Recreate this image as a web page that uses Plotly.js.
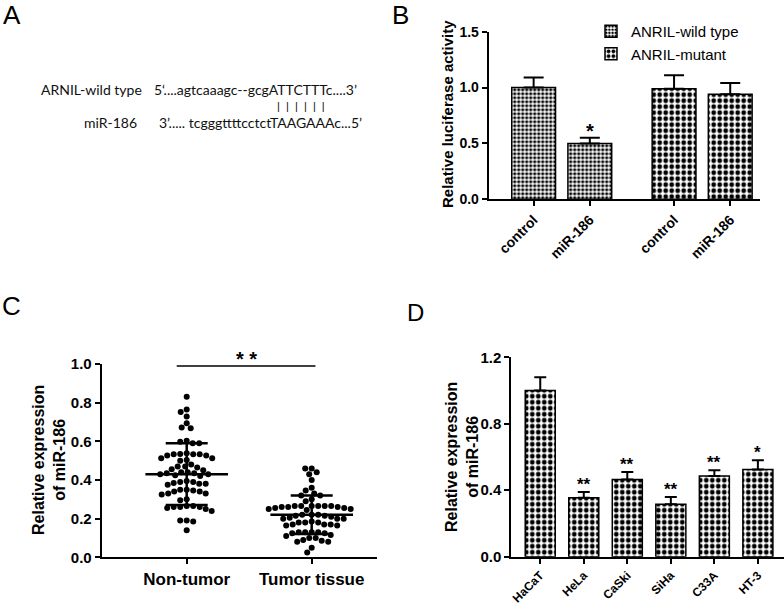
<!DOCTYPE html>
<html><head><meta charset="utf-8">
<script src="https://cdn.plot.ly/plotly-3.0.1.min.js"></script>
<style>html,body{margin:0;padding:0;background:#fff}#chart{width:784px;height:606px}</style>
</head><body><div id="chart"></div>
<script>
// ---------- Panel A (sequence alignment text) ----------
const aLabels = ['ARNIL-wild type', 'miR-186'];
const aSequences = ['5\u2018....agtcaaagc--gcgATTCTTTc....3\u2019', '3\u2019..... tcgggttttcctctTAAGAAAc...5\u2019'];
const aPairing = '|  |  |  |  |  |';

// ---------- Panel B (luciferase assay) ----------
const bCategories = ['control', 'miR-186', 'control', 'miR-186'];
const bSeriesNames = ['ANRIL-wild type', 'ANRIL-mutant'];
const bWild = [1.00, 0.50];
const bWildErr = [0.09, 0.05];
const bMutant = [0.99, 0.94];
const bMutantErr = [0.12, 0.10];
const bSig = ['', '*', '', ''];
const bTicks = [0, 0.5, 1.0, 1.5];
const bTitle = 'Relative luciferase activity';

// ---------- Panel C (tissue scatter) ----------
const cGroups = ['Non-tumor', 'Tumor tissue'];
const cNonTumor = [0.83, 0.765, 0.752, 0.728, 0.693, 0.672, 0.667, 0.603, 0.598, 0.59, 0.59,
  0.538, 0.535, 0.533, 0.526, 0.512, 0.50, 0.503, 0.512, 0.526, 0.533, 0.533,
  0.48, 0.47, 0.47, 0.465, 0.455, 0.45,
  0.44, 0.435, 0.43, 0.425, 0.42, 0.435, 0.44, 0.43,
  0.39, 0.385, 0.38, 0.375, 0.38, 0.39, 0.395,
  0.35, 0.345, 0.34, 0.33, 0.325, 0.33, 0.34, 0.35,
  0.30, 0.295,
  0.265, 0.26, 0.26, 0.255, 0.25, 0.24, 0.26, 0.265,
  0.19, 0.185, 0.19,
  0.14];
const cTumor = [0.46, 0.46, 0.44, 0.43, 0.40, 0.36, 0.345, 0.33, 0.32, 0.32, 0.30, 0.29,
  0.265, 0.265, 0.265, 0.26, 0.26, 0.255, 0.25, 0.245, 0.25, 0.255, 0.26, 0.265, 0.265, 0.265,
  0.22, 0.215, 0.21, 0.20, 0.20, 0.20, 0.205, 0.215, 0.22, 0.22,
  0.18, 0.18, 0.17, 0.165, 0.17, 0.165, 0.17, 0.18, 0.185,
  0.13, 0.13, 0.125, 0.11, 0.10, 0.10, 0.115, 0.125, 0.13, 0.13,
  0.09, 0.08, 0.08, 0.085,
  0.05, 0.025];
const cMean = [0.43, 0.22];
const cSD = [0.16, 0.10];
const cSigText = '* *';
const cSigSpan = [-0.08, 1.03];
const cSigLevel = 0.99;
const cTicks = [0, 0.2, 0.4, 0.6, 0.8, 1.0];
const cTitle = 'Relative expression<br>of miR-186';

// ---------- Panel D (cell lines) ----------
const dLines = ['HaCaT', 'HeLa', 'CaSki', 'SiHa', 'C33A', 'HT-3'];
const dValues = [1.00, 0.355, 0.465, 0.315, 0.485, 0.525];
const dErr = [0.08, 0.035, 0.045, 0.045, 0.035, 0.055];
const dSig = ['', '**', '**', '**', '**', '*'];
const dTicks = [0, 0.4, 0.8, 1.2];
const dTitle = 'Relative expression<br>of miR-186';

// ---------- layout helpers ----------
const W = 784, H = 606;
const px = v => v / W;
const py = v => 1 - v / H;
const FONT = 'Arial, Liberation Sans, sans-serif';
const black = '#000';

const gap = 0.5; // extra gap between the two groups in panel B
const bPos = bCategories.map((c, i) => i + (i >= 2 ? gap : 0));

// beeswarm placement (pixel space) for panel C
const C_DOM = [101.7, 376.7], C_RANGE = [-0.68, 1.52], C_YPX = 193.3;
const cPxPerX = (C_DOM[1] - C_DOM[0]) / (C_RANGE[1] - C_RANGE[0]);
function swarm(vals, center, diam) {
  const order = vals.map((v, i) => i).sort((a, b) => vals[b] - vals[a]);
  const placed = [];
  const xs = new Array(vals.length);
  order.forEach(i => {
    const y = vals[i] * C_YPX;
    for (let n = 0; n < 400; n++) {
      const off = n === 0 ? 0 : (n % 2 ? -Math.ceil(n / 2) : Math.ceil(n / 2)) * 0.5;
      const ok = placed.every(p => Math.hypot(p.x - off, p.y - y) >= diam);
      if (ok) { placed.push({x: off, y: y}); xs[i] = center + off / cPxPerX; break; }
    }
  });
  return xs;
}

const bold = (size) => ({family: FONT, size: size, color: black, weight: 700});
const axisCommon = {
  showgrid: false, zeroline: false, showline: true, linecolor: black, linewidth: 2,
  ticks: 'outside', ticklen: 5, tickwidth: 2, tickcolor: black, tickfont: bold(14)
};
const pat = (size, sol) => ({shape: '.', fgcolor: black, bgcolor: '#fff', fgopacity: 1, size: size, solidity: sol, fillmode: 'replace'});

const traces = [];
// Panel B bars
traces.push({
  type: 'bar', x: bPos.slice(0, 2), y: bWild, name: bSeriesNames[0], xaxis: 'x', yaxis: 'y', width: 0.78,
  marker: {color: '#fff', line: {color: black, width: 1.5}, pattern: pat(4, 0.5)},
  error_y: {type: 'data', array: bWildErr, arrayminus: [0, 0], symmetric: false, color: black, thickness: 2, width: 10}
});
traces.push({
  type: 'bar', x: bPos.slice(2, 4), y: bMutant, name: bSeriesNames[1], xaxis: 'x', yaxis: 'y', width: 0.78,
  marker: {color: '#fff', line: {color: black, width: 1.5}, pattern: pat(6, 0.5)},
  error_y: {type: 'data', array: bMutantErr, arrayminus: [0, 0], symmetric: false, color: black, thickness: 2, width: 10}
});

// Panel C dots
[cNonTumor, cTumor].forEach((vals, g) => {
  traces.push({
    type: 'scatter', mode: 'markers', x: swarm(vals, g, 6.3), y: vals, xaxis: 'x2', yaxis: 'y2',
    showlegend: false, marker: {color: black, size: 6}, hoverinfo: 'y'
  });
});
// Panel C mean +/- SD
traces.push({
  type: 'scatter', mode: 'markers', x: [0, 1], y: cMean, xaxis: 'x2', yaxis: 'y2', showlegend: false,
  marker: {symbol: 'line-ew', size: 59, color: black, line: {color: black, width: 2.5}},
  error_y: {type: 'data', array: cSD, symmetric: true, color: black, thickness: 2.5, width: 21}
});

// Panel D bars
traces.push({
  type: 'bar', x: dLines, y: dValues, xaxis: 'x3', yaxis: 'y3', showlegend: false, width: 0.69,
  marker: {color: '#fff', line: {color: black, width: 1.5}, pattern: pat(6, 0.5)},
  error_y: {type: 'data', array: dErr, arrayminus: dErr.map(() => 0), symmetric: false, color: black, thickness: 2, width: 6}
});

const annotations = [];
// panel letters
[['A', 12, 15, 26], ['B', 400, 15, 26], ['C', 11, 306, 26], ['D', 415, 312, 24]].forEach(([t, x, y, s]) => {
  annotations.push({text: t, xref: 'paper', yref: 'paper', x: px(x), y: py(y), xanchor: 'center', yanchor: 'middle',
    showarrow: false, font: {family: FONT, size: s, color: black}});
});
// panel A
const aFont = {family: 'Lato, Open Sans, sans-serif', size: 14, color: '#111'};
const ann = (text, x, y, font) => annotations.push({text: text, xref: 'paper', yref: 'paper', x: px(x), y: py(y),
  xanchor: 'left', yanchor: 'middle', showarrow: false, font: font});
ann(aLabels[0], 39, 89.5, aFont);
ann(aSequences[0], 151.5, 89.5, aFont);
ann(aPairing, 274.5, 106, {family: FONT, size: 11, color: '#111'});
ann(aLabels[1], 81.5, 122.5, aFont);
ann(aSequences[1], 156.5, 122.5, aFont);

// y-axis titles (rotated)
const ytitle = (text, x, y, size) => annotations.push({text: text, xref: 'paper', yref: 'paper', x: px(x), y: py(y),
  xanchor: 'center', yanchor: 'middle', textangle: -90, showarrow: false, font: bold(size)});
ytitle(bTitle, 448, 114, 15);
ytitle(cTitle, 49, 460, 16);
ytitle(dTitle, 462, 457, 16);

// significance stars B
const bAll = bWild.concat(bMutant), bAllErr = bWildErr.concat(bMutantErr);
bSig.forEach((s, i) => { if (s) annotations.push({text: s, xref: 'x', yref: 'y', x: bPos[i], y: bAll[i] + bAllErr[i],
  xanchor: 'center', yanchor: 'bottom', yshift: -6, showarrow: false, font: bold(20)}); });
// significance D
dSig.forEach((s, i) => { if (s) annotations.push({text: s, xref: 'x3', yref: 'y3', x: i, y: dValues[i] + dErr[i],
  xanchor: 'center', yanchor: 'bottom', yshift: -4, showarrow: false, font: bold(17)}); });
// significance C
annotations.push({text: cSigText, xref: 'x2', yref: 'y2', x: (cSigSpan[0] + cSigSpan[1]) / 2, y: cSigLevel, xanchor: 'center', yanchor: 'bottom',
  yshift: -6, showarrow: false, font: bold(20)});

const layout = {
  width: W, height: H, margin: {l: 0, r: 0, t: 0, b: 0}, paper_bgcolor: '#fff', plot_bgcolor: 'rgba(0,0,0,0)',
  font: {family: FONT, color: black}, showlegend: true, barmode: 'overlay',
  legend: {x: px(591), y: py(15), xanchor: 'left', yanchor: 'top', bgcolor: 'rgba(0,0,0,0)',
    font: {family: FONT, size: 15, color: black}, tracegroupgap: 0},
  xaxis: Object.assign({}, axisCommon, {domain: [px(488.7), px(760)], range: [-0.8, 4.03], anchor: 'y',
    tickvals: bPos, ticktext: bCategories, tickangle: -45, tickfont: bold(14)}),
  yaxis: Object.assign({}, axisCommon, {domain: [py(199.3), py(31.7)], range: [0, 1.5], anchor: 'x',
    tickvals: bTicks, ticktext: bTicks.map(v => v.toFixed(1))}),
  xaxis2: Object.assign({}, axisCommon, {domain: [px(C_DOM[0]), px(C_DOM[1])], range: C_RANGE, anchor: 'y2',
    tickvals: [0, 1], ticktext: cGroups, tickfont: bold(17)}),
  yaxis2: Object.assign({}, axisCommon, {domain: [py(557.3), py(364)], range: [0, 1.0], anchor: 'x2',
    tickvals: cTicks, ticktext: cTicks.map(v => v.toFixed(1)), tickfont: bold(15)}),
  xaxis3: Object.assign({}, axisCommon, {domain: [px(511.3), 1], range: [-0.665, 5.6], anchor: 'y3', type: 'category',
    tickangle: -45, tickfont: bold(12)}),
  yaxis3: Object.assign({}, axisCommon, {domain: [py(556.7), py(357.3)], range: [0, 1.2], anchor: 'x3',
    tickvals: dTicks, ticktext: dTicks.map(v => v.toFixed(1)), tickfont: bold(15)}),
  shapes: [{type: 'line', xref: 'x2', yref: 'y2', x0: cSigSpan[0], x1: cSigSpan[1], y0: cSigLevel, y1: cSigLevel,
    line: {color: black, width: 1.5}}],
  annotations: annotations
};

Plotly.newPlot('chart', traces, layout, {staticPlot: true, displayModeBar: false});
</script></body></html>
